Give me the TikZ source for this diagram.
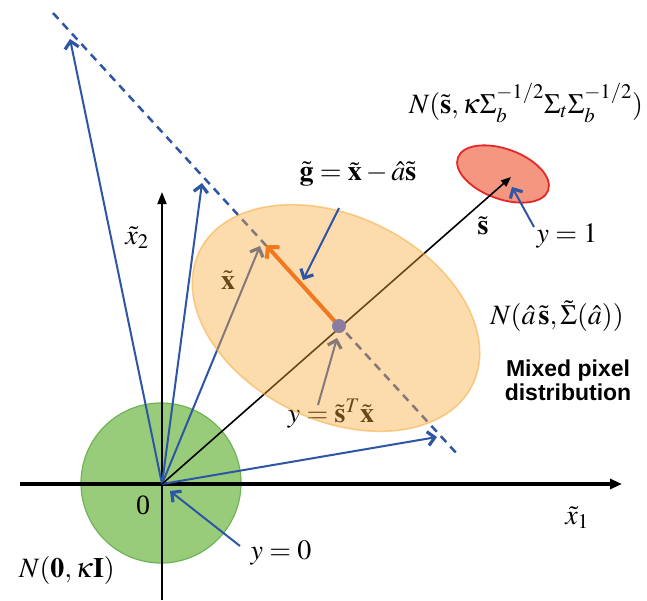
\documentclass[tikz,border=0pt]{standalone}
\usepackage{mathptmx}
\usepackage[no-math]{fontspec}
\setmainfont{Liberation Serif}
\newfontfamily\labelsans{Liberation Sans}
\usetikzlibrary{arrows.meta}
\definecolor{blueL}{RGB}{47,85,165}
\definecolor{orangeF}{RGB}{250,170,60}
\definecolor{orangeA}{RGB}{240,120,30}
\definecolor{greenF}{RGB}{152,204,122}
\definecolor{greenD}{RGB}{110,180,85}
\definecolor{redF}{RGB}{244,150,128}
\definecolor{redD}{RGB}{228,40,40}
\definecolor{dotC}{RGB}{140,125,160}
\tikzset{
  bluearrow/.style={draw=blueL, line width=2, -{Straight Barb[length=7,width=14,line width=3.2]}},
  axisline/.style={draw=black, -{Triangle[length=12,width=10]}},
  lbl/.style={inner sep=1pt},
}
\begin{document}
\begin{tikzpicture}[x=1pt,y=-1pt, font=\fontsize{28}{33}\selectfont]
\useasboundingbox (0,0) rectangle (647,600);
\fill[white] (0,0) rectangle (647,600);
% coordinates
\coordinate (O) at (162,484);
\coordinate (xs) at (20,484);
\coordinate (xe) at (622,484);
\coordinate (ys) at (162,600);
\coordinate (ye) at (162,192);
\coordinate (d1) at (53,13);
\coordinate (d2) at (459,456);
\coordinate (t1) at (70,39);
\coordinate (t2) at (202,183);
\coordinate (t3) at (260,246);
\coordinate (t4) at (437,437);
\coordinate (C) at (339,326);
\coordinate (otip) at (266,245);
\coordinate (S) at (511,177);
% green circle
\node[circle, minimum size=160, inner sep=0, fill=greenF, draw=greenD, line width=1.2] (G) at (161,483) {};
% red ellipse
\path[fill=redF, draw=redD, line width=1.8, rotate around={-20:(503,174)}] (503,174) ellipse [x radius=48, y radius=25];
% axes
\draw[axisline, line width=3.2] (xs) -- (xe);
\draw[axisline, line width=2, -{Triangle[length=12,width=9]}] (ys) -- (ye);
% dashed line
\draw[blueL, line width=2.5, dash pattern=on 8 off 6] (d1) -- (d2);
% blue vectors
\draw[bluearrow] (O) -- (t1);
\draw[bluearrow] (O) -- (t2);
\draw[bluearrow] (O) -- (t3);
\draw[bluearrow] (O) -- (t4);
% s vector
\draw[black, line width=1.6, -{Triangle[length=10,width=8]}] (O) -- (S);
% labels under the ellipse
\node[lbl] (lblx) at (228,280) {$\tilde{\mathbf{x}}$};
\node[lbl] (lblproj) at (331,414) {$y=\tilde{\mathbf{s}}^T\tilde{\mathbf{x}}$};
\coordinate (pa) at (318,405);
\coordinate (pb) at (337,338);
\draw[bluearrow] (pa) -- (pb);
% orange ellipse
\path[fill=orangeF, fill opacity=.42, draw=orangeF, draw opacity=.55, line width=1.5, rotate around={-26:(336,318)}] (336,318) ellipse [x radius=152, y radius=102];
% orange arrow and dot
\draw[orangeA, line width=4, -{Straight Barb[length=8,width=17,line width=4]}] (C) -- (otip);
\fill[dotC] (C) circle (7);
% other labels
\node[lbl] (lblS) at (526,103) {$N(\tilde{\mathbf{s}},\kappa\Sigma_b^{-1/2}\Sigma_t\Sigma_b^{-1/2})$};
\node[lbl] (lblG) at (358,174) {$\tilde{\mathbf{g}}=\tilde{\mathbf{x}}-\hat{a}\tilde{\mathbf{s}}$};
\node[lbl] (lbls) at (483,226) {$\tilde{\mathbf{s}}$};
\node[lbl] (lbly1) at (567,236) {$y=1$};
\node[lbl] (lblx2) at (137,238) {$\tilde{x}_2$};
\node[lbl] (lblmix) at (557,316) {$N(\hat{a}\,\tilde{\mathbf{s}},\tilde{\Sigma}(\hat{a}))$};
\node[lbl, align=center, font=\labelsans\bfseries\fontsize{23}{24}\selectfont] (lbldist) at (568,380) {Mixed pixel\\distribution};
\node[lbl] (lbl0) at (143,505) {0};
\node[lbl] (lblx1) at (577,518) {$\tilde{x}_1$};
\node[lbl] (lbly0) at (281,553) {$y=0$};
\node[lbl] (lblN0) at (67,570) {$N(\mathbf{0},\kappa\mathbf{I})$};
% pointer arrows
\coordinate (ga) at (339,208);
\coordinate (gb) at (303,280);
\draw[bluearrow] (ga) -- (gb);
\coordinate (ya) at (534,227);
\coordinate (yb) at (512,187);
\draw[bluearrow] (ya) -- (yb);
\coordinate (za) at (240,546);
\coordinate (zb) at (170,491);
\draw[bluearrow] (za) -- (zb);
\end{tikzpicture}
\end{document}
